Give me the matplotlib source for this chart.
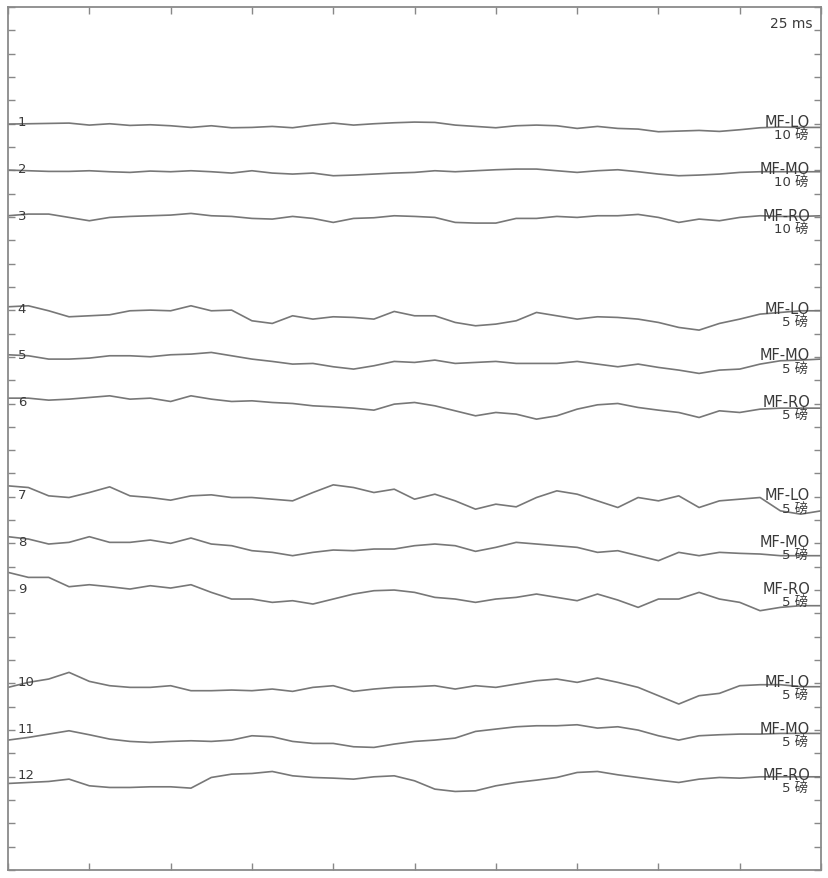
import numpy as np
import matplotlib
matplotlib.use('Agg')
import matplotlib.pyplot as plt

plt.rcParams['font.family'] = ['DejaVu Sans', 'Noto Sans CJK SC']

# channel names / gains
channels = ['1', '2', '3', '4', '5', '6', '7', '8', '9', '10', '11', '12']
leads = ['MF-LO', 'MF-MO', 'MF-RO'] * 4
gains = ['10 磅'] * 3 + ['5 磅'] * 9

# baseline of each trace (grid rows from top) and row of the labels
baseline = [5.02, 7.02, 8.95, 12.81, 14.91, 16.77, 20.53, 22.71, 24.24, 29.17, 31.43, 33.29]
label_row = [5, 7, 9, 13, 15, 17, 21, 23, 25, 29, 31, 33]

# samples, positive = up (1 unit = 1/70 grid row)
tr1 = [0, 1, 2, 3, -3, 1, -4, -2, -5, -10, -5, -11, -10, -7, -11, -3, 3, -3, 1, 4, 6,
       5, -3, -7, -11, -5, -3, -5, -13, -7, -13, -15, -23, -21, -19, -22, -17, -11, -9, -10, -10]
tr2 = [2, 0, -2, -2, 0, -3, -5, -1, -3, 0, -3, -7, 0, -7, -10, -7, -15, -13, -10, -7, -5,
       0, -3, 0, 3, 5, 5, 0, -5, 0, 3, -3, -10, -15, -13, -10, -5, -3, -3, -3, -3]
tr3 = [0, 5, 5, -5, -15, -5, -2, 0, 2, 7, 0, -2, -8, -10, -2, -8, -20, -8, -6, 0, -2,
       -5, -20, -22, -22, -8, -8, -2, -5, 0, 0, 4, -5, -20, -10, -15, -5, 0, -2, -2, 0]
tr4 = [-3, 0, -15, -33, -30, -27, -15, -13, -15, 0, -15, -13, -45, -53, -30, -40, -33, -35, -40, -17, -30,
       -30, -50, -60, -55, -45, -20, -30, -40, -33, -35, -40, -50, -65, -73, -53, -40, -25, -20, -15, -15]
tr5 = [0, -3, -13, -13, -10, -3, -3, -6, 0, 2, 7, -3, -13, -20, -28, -26, -36, -43, -33, -20, -23,
       -16, -26, -23, -20, -26, -26, -26, -20, -28, -36, -28, -38, -46, -56, -46, -43, -28, -18, -16, -13]
tr6 = [0, 0, -6, -3, 2, 7, -3, 0, -10, 7, -3, -10, -8, -13, -16, -23, -26, -30, -36, -18, -13,
       -23, -38, -53, -43, -48, -63, -53, -33, -20, -16, -28, -36, -43, -58, -38, -43, -33, -30, -30, -30]
tr7 = [0, -5, -30, -35, -20, -3, -30, -35, -43, -30, -27, -35, -35, -40, -45, -20, 3, -5, -20, -10, -40,
       -25, -45, -70, -55, -63, -35, -15, -25, -45, -65, -35, -45, -30, -65, -45, -40, -35, -75, -85, -75]
tr8 = [0, -7, -22, -17, 0, -17, -17, -10, -20, -4, -22, -27, -42, -47, -57, -47, -40, -42, -37, -37, -27,
       -22, -27, -44, -32, -17, -22, -27, -32, -47, -42, -57, -72, -47, -57, -47, -50, -52, -57, -57, -57]
tr9 = [0, -15, -15, -43, -37, -43, -50, -40, -47, -37, -60, -80, -80, -90, -85, -95, -80, -65, -55, -53, -60,
       -75, -80, -90, -80, -75, -65, -75, -85, -65, -83, -105, -80, -80, -60, -80, -90, -115, -105, -100, -100]
tr10 = [0, 15, 25, 45, 18, 5, 0, 0, 5, -10, -10, -8, -10, -5, -12, 0, 5, -12, -5, 0, 2,
        5, -5, 5, 0, 10, 20, 25, 15, 28, 15, 0, -25, -50, -25, -18, 5, 8, 8, 2, 2]
tr11 = [0, 8, 18, 28, 16, 3, -4, -7, -4, -2, -4, 0, 13, 10, -4, -10, -10, -20, -22, -12, -4,
        0, 6, 26, 33, 40, 43, 43, 46, 36, 40, 30, 13, 0, 13, 16, 18, 18, 20, 20, 20]
tr12 = [0, 3, 6, 13, -7, -12, -12, -10, -10, -14, 18, 28, 30, 36, 23, 18, 16, 13, 20, 23, 8,
        -17, -24, -22, -7, 3, 10, 18, 33, 36, 26, 18, 10, 3, 13, 18, 16, 20, 20, 20, 20]
traces = [tr1, tr2, tr3, tr4, tr5, tr6, tr7, tr8, tr9, tr10, tr11, tr12]

t = np.linspace(0, 10, len(tr1))  # 10 grid columns, 25 ms sweep
gain = 1 / 70.0

trace_col = '#777777'
text_col = '#3a3a3a'

fig = plt.figure(figsize=(8.29, 8.79), dpi=100)
ax = fig.add_axes([0.0097, 0.0091, 0.9807, 0.9818])

for i, tr in enumerate(traces):
    y = baseline[i] - np.array(tr) * gain
    ax.plot(t, y, color=trace_col, lw=1.2)
    ax.text(0.12, label_row[i] - 0.08, channels[i], ha='left', va='center',
            fontsize=9.5, color=text_col)
    ax.text(9.865, label_row[i] - 0.08, leads[i], ha='right', va='center',
            fontsize=10.5, color=text_col)
    ax.text(9.84, label_row[i] + 0.48, gains[i], ha='right', va='center',
            fontsize=9.5, color=text_col)

ax.text(9.90, 0.69, '25 ms', ha='right', va='center', fontsize=10, color=text_col)

ax.set_xlim(0, 10)
ax.set_ylim(37, 0)
ax.set_xticks(np.arange(0, 11))
ax.set_yticks(np.arange(0, 38))
ax.tick_params(direction='in', length=5, width=1, color='#888888',
               top=True, right=True, labelleft=False, labelbottom=False)
for s in ax.spines.values():
    s.set_color('#8a8a8a')
    s.set_linewidth(1.3)

plt.savefig('out.png', dpi=100)
